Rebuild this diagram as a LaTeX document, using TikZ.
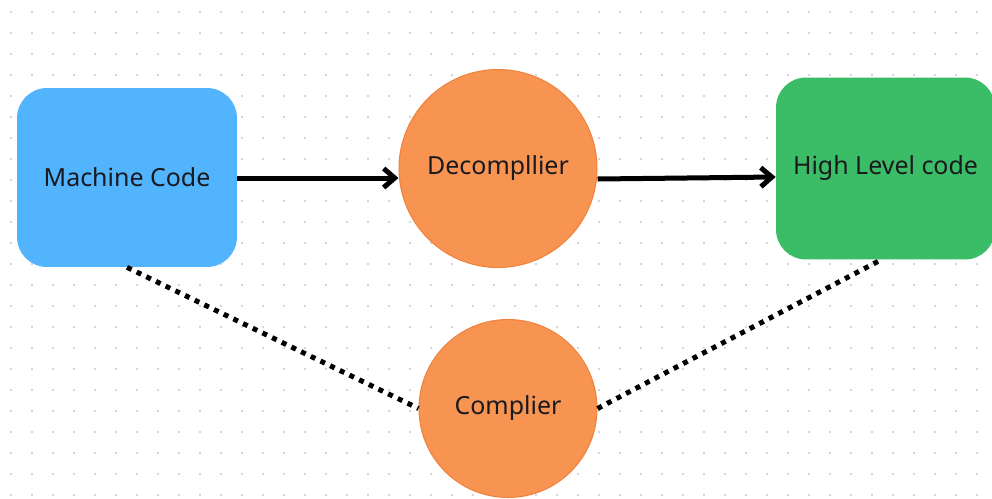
\documentclass[tikz,border=0pt]{standalone}
\usepackage{fontspec}
\setmainfont{Noto Sans}
\usetikzlibrary{arrows.meta}

\definecolor{mcblue}{RGB}{82,180,252}
\definecolor{decorange}{RGB}{247,148,82}
\definecolor{decedge}{RGB}{240,130,60}
\definecolor{hlgreen}{RGB}{59,189,103}
\definecolor{griddot}{RGB}{195,198,212}
\definecolor{txt}{RGB}{25,25,30}

\begin{document}
\begin{tikzpicture}[x=0.02cm,y=-0.02cm,
  box/.style={rounded corners=0.6cm, inner sep=0pt, text=txt},
  blob/.style={circle, fill=decorange, draw=decedge, line width=0.6pt, inner sep=0pt, text=txt},
  flow/.style={line width=0.1cm, -{Straight Barb[length=0.22cm,width=0.38cm,line width=0.1cm]}},
  link/.style={line width=0.1cm, dash pattern=on 0.1cm off 0.115cm}]
\useasboundingbox (0,0) rectangle (992,498);
\clip (0,0) rectangle (992,498);
\fill[white] (0,0) rectangle (992,498);

% dotted grid
\foreach \i in {0,...,47} {
\foreach \j in {0,...,23} {
\fill[griddot] (11+21*\i,12+21*\j) circle (1.1);
}
}

\fontsize{14.2}{17}\selectfont
\node[box, fill=mcblue, minimum width=4.4cm, minimum height=3.58cm] (mc) at (127,177.5) {Machine Code};
\node[blob, minimum size=3.96cm] (dec) at (498,168.5) {Decompllier};
\node[box, fill=hlgreen, minimum width=4.38cm, minimum height=3.64cm] (hlc) at (885.5,168.5) {High Level code};
\node[blob, minimum size=3.56cm] (comp) at (508,408.5) {Complier};

\draw[flow] (mc.east |- 0,178) -- (dec.west |- 0,178);
\draw[flow] (dec.east |- 0,179) -- (hlc.west |- 0,177);

\draw[link] (mc.south) -- (comp.west);
\draw[link] (comp.east) -- ([xshift=-0.09cm]hlc.south);
\end{tikzpicture}
\end{document}
